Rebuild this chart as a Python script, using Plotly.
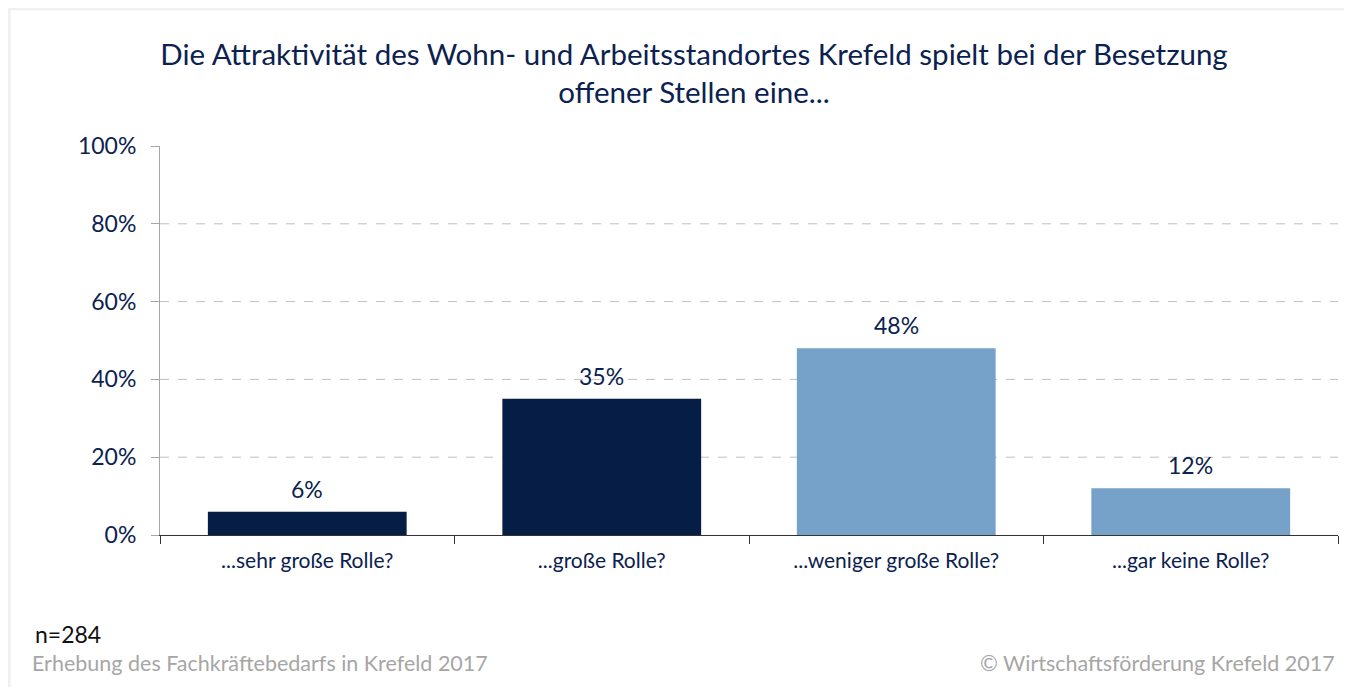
import plotly.graph_objects as go

# Data
categories = ["...sehr große Rolle?", "...große Rolle?", "...weniger große Rolle?", "...gar keine Rolle?"]
values = [6, 35, 48, 12]
bar_colors = ["#061D46", "#061D46", "#76A1C9", "#76A1C9"]
grid_values = [20, 40, 60, 80]
y_ticks = [0, 20, 40, 60, 80, 100]

NAVY = "#0B2250"
FONT = "Lato, 'Open Sans', sans-serif"

fig = go.Figure()

fig.add_trace(go.Bar(
    x=categories,
    y=values,
    marker=dict(color=bar_colors, line=dict(width=0)),
    width=0.675,
    hoverinfo="x+y",
))

# value labels above the bars
for cat, v in zip(categories, values):
    fig.add_annotation(x=cat, y=v, text=f"{v}%", showarrow=False,
                       xanchor="center", yanchor="bottom", yshift=7,
                       font=dict(size=23, color=NAVY, family=FONT))

# dashed gridlines (none at 100%)
for g in grid_values:
    fig.add_shape(type="line", xref="paper", yref="y", x0=0, x1=1, y0=g, y1=g,
                  line=dict(color="#BFBFBF", width=1, dash="dash"), layer="below")

# faint frame round the picture
fig.add_shape(type="rect", xref="paper", yref="paper",
              x0=-0.128, x1=1.02, y0=-0.42, y1=1.353,
              line=dict(color="#F0F0F0", width=3))

fig.update_layout(
    width=1352, height=687,
    margin=dict(l=152, r=22, t=138, b=160),
    paper_bgcolor="white", plot_bgcolor="white",
    showlegend=False,
    font=dict(family=FONT, color=NAVY),
    title=dict(
        text="Die Attraktivität des Wohn- und Arbeitsstandortes Krefeld spielt bei der Besetzung<br>offener Stellen eine...",
        x=0.5074, xanchor="center", y=0.917, yanchor="middle",
        font=dict(size=29.5, color=NAVY, family=FONT),
    ),
    xaxis=dict(
        showline=True, linecolor="#333333", linewidth=1,
        ticks="outside", tickson="boundaries", ticklen=8, tickcolor="#333333",
        tickfont=dict(size=21, color=NAVY, family=FONT),
        ticklabelstandoff=7,
        showgrid=False,
    ),
    yaxis=dict(
        range=[0, 100], tickvals=y_ticks, ticktext=[f"{t}%" for t in y_ticks],
        showline=True, linecolor="#A6A6A6", linewidth=1,
        ticks="outside", ticklen=8, tickcolor="#A6A6A6",
        tickfont=dict(size=23, color=NAVY, family=FONT),
        ticklabelstandoff=10,
        showgrid=False, zeroline=False,
    ),
)

fig.add_annotation(text="n=284", xref="paper", yref="paper", x=-0.1078, y=-0.2545,
                   xanchor="left", yanchor="middle", showarrow=False,
                   font=dict(size=23, color="#111111", family=FONT))
fig.add_annotation(text="Erhebung des Fachkräftebedarfs in Krefeld 2017", xref="paper", yref="paper",
                   x=-0.1105, y=-0.329, xanchor="left", yanchor="middle", showarrow=False,
                   font=dict(size=21.5, color="#A6A6A6", family=FONT))
fig.add_annotation(text="© Wirtschaftsförderung Krefeld 2017", xref="paper", yref="paper",
                   x=0.9992, y=-0.329, xanchor="right", yanchor="middle", showarrow=False,
                   font=dict(size=21.5, color="#A6A6A6", family=FONT))

fig.write_html("out.html")
